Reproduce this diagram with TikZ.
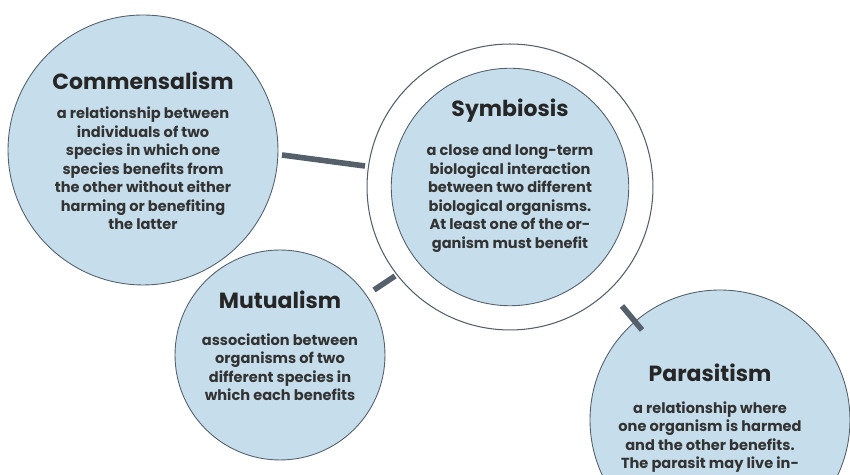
\documentclass[tikz,border=0pt]{standalone}
\usepackage{fontspec}
\setmainfont{Poppins}
\usetikzlibrary{positioning}
\definecolor{bubble}{HTML}{C6DEEC}
\definecolor{rim}{HTML}{55606A}
\tikzset{
  bubble/.style={circle, fill=bubble, draw=rim, line width=0.5pt, minimum size=#1, inner sep=0pt},
  title/.style={font=\bfseries\fontsize{12.5}{14}\selectfont, text=black!85},
  body/.style={font=\bfseries\fontsize{8.3}{10.5}\selectfont, text=black!80, align=center},
  link/.style={draw=rim, line width=3.2pt}
}
\begin{document}
\begin{tikzpicture}[x=0.02cm,y=-0.02cm]
  \useasboundingbox (0,0) rectangle (850,475);
  \begin{scope}
  \clip (0,0) rectangle (850,475);

  % Symbiosis with its ring
  \node[circle, draw=rim, line width=0.6pt, fill=white, minimum size=5.72cm] (ring) at (510,187) {};
  \node[bubble=4.75cm] (symb) at (510,187) {};
  \node[title] (symbT) at (510,111) {Symbiosis};
  \node[body, below=0.2cm of symbT] {a close and long-term\\biological interaction\\between two different\\biological organisms.\\At least one of the or-\\ganism must benefit};

  % Commensalism
  \node[bubble=5.4cm] (comm) at (143,150) {};
  \node[title] (commT) at (143,81) {Commensalism};
  \node[body, below=0.1cm of commT] {a relationship between\\individuals of two\\species in which one\\species benefits from\\the other without either\\harming or benefiting\\the latter};

  % Mutualism
  \node[bubble=4.2cm] (mutu) at (280,355) {};
  \node[title] (mutuT) at (280,300) {Mutualism};
  \node[body, below=0.25cm of mutuT] {association between\\organisms of two\\different species in\\which each benefits};

  % Parasitism
  \node[bubble=5.2cm] (para) at (720,420) {};
  \node[title] (paraT) at (710,373) {Parasitism};
  \node[body, below=0.15cm of paraT] {a relationship where\\one organism is harmed\\and the other benefits.\\The parasit may live in-};

  % links
  \coordinate (c1) at (282,155); \coordinate (s1) at (365,166);
  \coordinate (m1) at (374,290); \coordinate (s2) at (395,276);
  \coordinate (s3) at (622,306); \coordinate (p1) at (642,330);
  \draw[link] (c1) -- (s1);
  \draw[link] (m1) -- (s2);
  \draw[link] (s3) -- (p1);
  \end{scope}
\end{tikzpicture}
\end{document}
